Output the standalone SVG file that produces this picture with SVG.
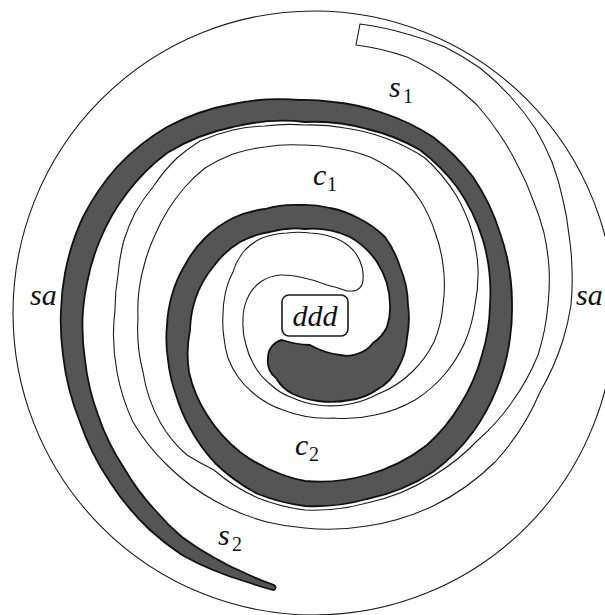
<svg xmlns="http://www.w3.org/2000/svg" width="605" height="615" viewBox="0 0 605 615">
<style>
.thin{fill:none;stroke:#1a1a1a;stroke-width:1.1}
.dark{fill:#555555;stroke:#111;stroke-width:1.8;stroke-linejoin:round}
</style>
<rect width="605" height="615" fill="#fff"/>
<g id="outer-circle">
<ellipse class="thin" cx="314" cy="313" rx="301" ry="302"/>
</g>
<g id="dark-arm">
<path class="dark" d="M 282 340 A 18 18 0 0 0 268 358 A 22 22 0 0 0 276 378
A 40 40 0 0 0 293 394 A 80 80 0 0 0 318 401 A 100 100 0 0 0 350 400 A 60 60 0 0 0 378 389
A 50 50 0 0 0 398 368 A 70 70 0 0 0 407 338 A 100 100 0 0 0 408 305 A 100 100 0 0 0 400 267
A 100 100 0 0 0 385 237 A 100 100 0 0 0 360 219 A 100 100 0 0 0 330 208 A 110 110 0 0 0 300 205
A 110 110 0 0 0 265 209 A 110 110 0 0 0 233 218 A 110 110 0 0 0 205 238 A 110 110 0 0 0 185 265
A 120 120 0 0 0 172 295 A 130 130 0 0 0 167 325 A 140 140 0 0 0 168 360 A 150 150 0 0 0 176 395
A 160 160 0 0 0 190 428 A 170 170 0 0 0 215 463 A 180 180 0 0 0 258 494 A 190 190 0 0 0 305 506
A 190 190 0 0 0 367 499 A 190 190 0 0 0 433 472 A 190 190 0 0 0 473 432 A 200 200 0 0 0 497 388
A 200 200 0 0 0 510 338 A 200 200 0 0 0 512 305 A 210 210 0 0 0 500 233 A 210 210 0 0 0 473 177
A 210 210 0 0 0 433 137 A 210 210 0 0 0 383 113 A 210 210 0 0 0 333 102 A 210 210 0 0 0 300 100
A 220 220 0 0 0 233 104 A 220 220 0 0 0 167 127 A 220 220 0 0 0 117 167 A 230 230 0 0 0 83 217
A 240 240 0 0 0 65 273 A 240 240 0 0 0 61 310 A 250 250 0 0 0 63 355 A 250 250 0 0 0 80 422
A 250 250 0 0 0 110 482 A 250 250 0 0 0 150 530 A 260 260 0 0 0 182 555 A 280 280 0 0 0 213 570
A 300 300 0 0 0 247 582 A 300 300 0 0 0 273 590 A 2.6 2.6 0 0 0 274 585
A 290 290 0 0 1 247 574 A 270 270 0 0 1 213 557 A 250 250 0 0 1 182 537 A 230 230 0 0 1 155 510
A 230 230 0 0 1 124 468 A 230 230 0 0 1 98 415 A 230 230 0 0 1 85 360 A 230 230 0 0 1 83 310
A 220 220 0 0 1 87 283 A 210 210 0 0 1 100 240 A 200 200 0 0 1 127 193 A 200 200 0 0 1 167 153
A 200 200 0 0 1 233 127 A 200 200 0 0 1 305 122 A 190 190 0 0 1 367 129 A 190 190 0 0 1 420 150
A 190 190 0 0 1 457 187 A 190 190 0 0 1 483 240 A 190 190 0 0 1 490 305 A 180 180 0 0 1 482 355
A 180 180 0 0 1 460 405 A 170 170 0 0 1 427 445 A 170 170 0 0 1 367 475 A 170 170 0 0 1 305 481
A 160 160 0 0 1 283 475 A 160 160 0 0 1 240 452 A 150 150 0 0 1 207 415 A 130 130 0 0 1 189 372
A 120 120 0 0 1 190 330 A 110 110 0 0 1 195 300 A 100 100 0 0 1 213 267 A 90 90 0 0 1 240 242
A 90 90 0 0 1 270 232 A 90 90 0 0 1 305 229 A 90 90 0 0 1 350 237 A 80 80 0 0 1 377 262
A 80 80 0 0 1 390 305 A 60 60 0 0 1 387 327 A 40 40 0 0 1 373 343 A 30 30 0 0 1 357 354
A 30 30 0 0 1 340 355 A 80 80 0 0 1 310 345 A 100 100 0 0 1 282 340 Z"/>
</g>
<g id="strip-arm">
<path class="thin" d="M 360 24 L 356 45
A 250 250 0 0 1 407 57 A 250 250 0 0 1 447 80 A 240 240 0 0 1 477 105 A 240 240 0 0 1 500 135
A 240 240 0 0 1 518 166 A 240 240 0 0 1 533 200 A 240 240 0 0 1 544 233 A 240 240 0 0 1 549 267
A 240 240 0 0 1 548 305 A 230 230 0 0 1 538 355 A 220 220 0 0 1 512 402 A 210 210 0 0 1 478 440
A 210 210 0 0 1 433 476 A 200 200 0 0 1 367 503 A 200 200 0 0 1 305 510 A 190 190 0 0 1 258 498
A 170 170 0 0 1 214 470 A 300 300 0 0 1 187 455 A 120 120 0 0 1 160 422 A 150 150 0 0 1 143 372
A 170 170 0 0 1 138 318 A 170 170 0 0 1 139 290 A 170 170 0 0 1 145 262 A 160 160 0 0 1 155 235
A 160 160 0 0 1 168 210 A 160 160 0 0 1 185 187 A 160 160 0 0 1 205 168 A 160 160 0 0 1 233 154
A 160 160 0 0 1 265 147 A 160 160 0 0 1 300 145 A 160 160 0 0 1 335 148 A 150 150 0 0 1 370 157
A 150 150 0 0 1 398 174 A 140 140 0 0 1 420 200 A 140 140 0 0 1 435 232 A 140 140 0 0 1 443 265
A 140 140 0 0 1 443 305 A 120 120 0 0 1 434 342 A 110 110 0 0 1 412 372 A 100 100 0 0 1 378 394
A 100 100 0 0 1 350 404 A 100 100 0 0 1 318 405 A 80 80 0 0 1 293 398 A 60 60 0 0 1 270 384
A 60 60 0 0 1 253 363 A 70 70 0 0 1 246 345 A 70 70 0 0 1 243 320 A 50 50 0 0 1 249 295
A 40 40 0 0 1 262 281 A 40 40 0 0 1 280 275 A 80 80 0 0 1 300 277 A 150 150 0 0 1 327 285
A 150 150 0 0 1 347 291 L 352 291 A 11 11 0 0 0 363 280 A 40 40 0 0 0 362 267
A 40 40 0 0 0 353 250 A 50 50 0 0 0 335 238 A 90 90 0 0 0 310 233 A 90 90 0 0 0 287 233
A 90 90 0 0 0 262 238 A 60 60 0 0 0 245 250 A 60 60 0 0 0 233 272 A 80 80 0 0 0 225 295
A 90 90 0 0 0 223 315 A 100 100 0 0 0 224 338 A 100 100 0 0 0 228 358 A 90 90 0 0 0 238 377
A 80 80 0 0 0 252 392 A 90 90 0 0 0 283 410 A 120 120 0 0 0 333 418 A 130 130 0 0 0 375 415
A 130 130 0 0 0 415 400 A 130 130 0 0 0 445 374 A 140 140 0 0 0 465 342 A 150 150 0 0 0 475 305
A 160 160 0 0 0 478 268 A 170 170 0 0 0 472 232 A 170 170 0 0 0 456 195 A 180 180 0 0 0 425 158
A 180 180 0 0 0 385 138 A 190 190 0 0 0 345 128 A 190 190 0 0 0 305 125 A 190 190 0 0 0 265 126
A 190 190 0 0 0 233 130 A 190 190 0 0 0 200 141 A 190 190 0 0 0 177 158 A 170 170 0 0 0 153 187
A 170 170 0 0 0 135 213 A 190 190 0 0 0 124 240 A 200 200 0 0 0 118 275 A 200 200 0 0 0 115 310
A 200 200 0 0 0 117 372 A 200 200 0 0 0 133 422 A 200 200 0 0 0 167 465 A 210 210 0 0 0 217 502
A 220 220 0 0 0 267 522 A 220 220 0 0 0 305 528 A 230 230 0 0 0 367 526 A 230 230 0 0 0 433 506
A 230 230 0 0 0 495 462 A 240 240 0 0 0 540 392 A 250 250 0 0 0 563 340 A 250 250 0 0 0 571 305
A 260 260 0 0 0 572 270 A 260 260 0 0 0 569 235 A 260 260 0 0 0 563 200 A 260 260 0 0 0 552 162
A 260 260 0 0 0 535 128 A 260 260 0 0 0 510 96 A 260 260 0 0 0 480 68 A 270 270 0 0 0 445 47
A 280 280 0 0 0 407 34 A 300 300 0 0 0 360 24 Z"/>
</g>
<g id="ddd">
<rect x="282" y="295" width="66" height="41" rx="7" fill="#fff" stroke="#1a1a1a" stroke-width="1.6"/>
<text x="315" y="326" text-anchor="middle" font-family="'Liberation Serif', 'Times New Roman', serif" font-style="italic" font-size="30" fill="#111">ddd</text>
</g>
<g id="labels" font-family="'Liberation Serif', 'Times New Roman', serif" fill="#111">
<text x="389" y="97" font-style="italic" font-size="30">s</text><text x="403" y="103" font-size="20">1</text>
<text x="313" y="185" font-style="italic" font-size="30">c</text><text x="327" y="191" font-size="20">1</text>
<text x="295" y="455" font-style="italic" font-size="30">c</text><text x="309" y="461" font-size="20">2</text>
<text x="218" y="545" font-style="italic" font-size="30">s</text><text x="232" y="551" font-size="20">2</text>
<text x="30" y="305" font-style="italic" font-size="30">sa</text>
<text x="576" y="305" font-style="italic" font-size="30">sa</text>
</g>
</svg>
